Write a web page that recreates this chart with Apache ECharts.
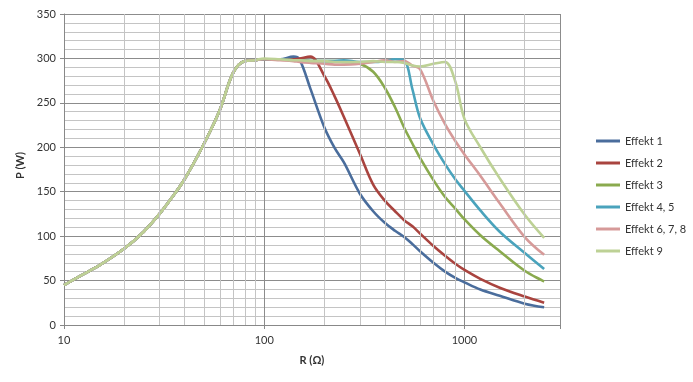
<!DOCTYPE html>
<html>
<head>
<meta charset="utf-8">
<script src="https://cdn.jsdelivr.net/npm/echarts@6/dist/echarts.min.js"></script>
<style>
  html, body { margin: 0; padding: 0; background: #fff; }
  #chart { width: 693px; height: 382px; }
</style>
</head>
<body>
<div id="chart"></div>
<script>
// R values (Ohm) shared by all curves
var rValues = [10, 12, 15, 20, 25, 30, 35, 40, 50, 60, 70, 80, 90, 100, 120, 140, 150, 170, 200, 225, 250, 300, 350, 400, 450, 500, 550, 600, 700, 800, 900, 1000, 1200, 1500, 2000, 2500];

// P (W) per effect setting
var effekt1 = [45, 55, 67, 86, 105, 125, 145, 164, 204, 242, 284, 297, 298, 299, 299, 302, 299, 266, 222, 199, 183, 148, 128, 115, 106, 99, 91, 83, 70, 60, 53, 48, 40, 33, 24, 20];
var effekt2 = [45, 55, 67, 86, 105, 125, 145, 164, 204, 242, 284, 297, 298, 299, 299, 299, 300, 302, 280, 257, 234, 193, 158, 140, 128, 118, 111, 103, 89, 78, 69, 62, 52, 42, 32, 25];
var effekt3 = [45, 55, 67, 86, 105, 125, 145, 164, 204, 242, 284, 297, 298, 299, 299, 298, 298, 297, 297, 297, 296, 294, 285, 267, 245, 222, 204, 188, 163, 144, 131, 119, 101, 83, 61, 49];
var effekt45 = [45, 55, 67, 86, 105, 125, 145, 164, 204, 242, 284, 297, 298, 299, 299, 298, 298, 297, 297, 297, 298, 296, 296, 297, 299, 298, 265, 233, 203, 181, 164, 151, 129, 105, 81, 63];
var effekt678 = [45, 55, 67, 86, 105, 125, 145, 164, 204, 242, 284, 297, 298, 299, 298, 297, 296, 295, 294, 293, 293, 294, 296, 298, 296, 297, 292, 288, 252, 226, 207, 192, 168, 137, 99, 79];
var effekt9 = [45, 55, 67, 86, 105, 125, 145, 164, 204, 242, 284, 297, 298, 300, 299, 298, 298, 297, 297, 296, 296, 296, 297, 296, 296, 295, 292, 291, 294, 296, 274, 232, 200, 165, 124, 98];

// minor vertical grid lines of the log axis
var minorR = [20, 30, 40, 50, 60, 70, 80, 90, 200, 300, 400, 500, 600, 700, 800, 900, 2000];

var names = ["Effekt 1", "Effekt 2", "Effekt 3", "Effekt 4, 5", "Effekt 6, 7, 8", "Effekt 9"];
var colors = ["#4a6d9c", "#a9443f", "#8aaa4e", "#4aa3bc", "#d69a99", "#bdd195"];
var values = [effekt1, effekt2, effekt3, effekt45, effekt678, effekt9];

function pairs(arr) {
  var out = [];
  for (var i = 0; i < arr.length; i++) {
    out.push([rValues[i], arr[i]]);
  }
  return out;
}

var series = [];
// helper series just for the minor grid
series.push({
  type: "line",
  data: [],
  z: 1,
  silent: true,
  markLine: {
    silent: true,
    symbol: "none",
    animation: false,
    label: { show: false },
    lineStyle: { color: "#c4c4c4", width: 1, type: "solid" },
    data: minorR.map(function(r) { return { xAxis: r }; })
  }
});
for (var i = 0; i < names.length; i++) {
  series.push({
    name: names[i],
    type: "line",
    z: 3,
    data: pairs(values[i]),
    smooth: 0.35,
    showSymbol: false,
    lineStyle: { width: 2.6, color: colors[i] },
    itemStyle: { color: colors[i] }
  });
}

var font = "Lato";
var myChart = echarts.init(document.getElementById("chart"));
myChart.setOption({
  animation: false,
  backgroundColor: "#fff",
  textStyle: { fontFamily: font },
  grid: { left: 64, right: 133, top: 14, bottom: 57 },
  legend: {
    orient: "vertical",
    left: 591,
    top: 129,
    icon: "rect",
    itemWidth: 24,
    itemHeight: 3,
    itemGap: 8,
    data: names,
    textStyle: { fontFamily: font, fontSize: 11, color: "#333", lineHeight: 14 }
  },
  xAxis: {
    type: "log",
    logBase: 10,
    min: 10,
    max: 3000,
    name: "R (Ω)",
    nameLocation: "middle",
    nameGap: 30,
    nameTextStyle: { fontFamily: font, fontSize: 11, fontWeight: "bold", color: "#333" },
    axisLine: { lineStyle: { color: "#888" } },
    axisTick: { show: true, length: 4, lineStyle: { color: "#888" } },
    axisLabel: {
      fontFamily: font, fontSize: 11, color: "#333", margin: 10,
      formatter: function(v) {
        return (v === 10 || v === 100 || v === 1000) ? String(v) : "";
      }
    },
    splitLine: { show: true, lineStyle: { color: "#8c8c8c", width: 1 } }
  },
  yAxis: {
    type: "value",
    min: 0,
    max: 350,
    interval: 50,
    name: "P (W)",
    nameLocation: "middle",
    nameGap: 38,
    nameTextStyle: { fontFamily: font, fontSize: 11, fontWeight: "bold", color: "#333", padding: [0, 0, 0, 8] },
    axisLine: { show: true, lineStyle: { color: "#888" } },
    axisTick: { show: true, length: 4, lineStyle: { color: "#888" } },
    axisLabel: { fontFamily: font, fontSize: 11, color: "#333", margin: 8 },
    splitLine: { show: true, lineStyle: { color: "#8c8c8c", width: 1 } },
    minorTick: { show: false, splitNumber: 5 },
    minorSplitLine: { show: true, lineStyle: { color: "#c4c4c4", width: 1 } }
  },
  series: series
});
</script>
</body>
</html>
